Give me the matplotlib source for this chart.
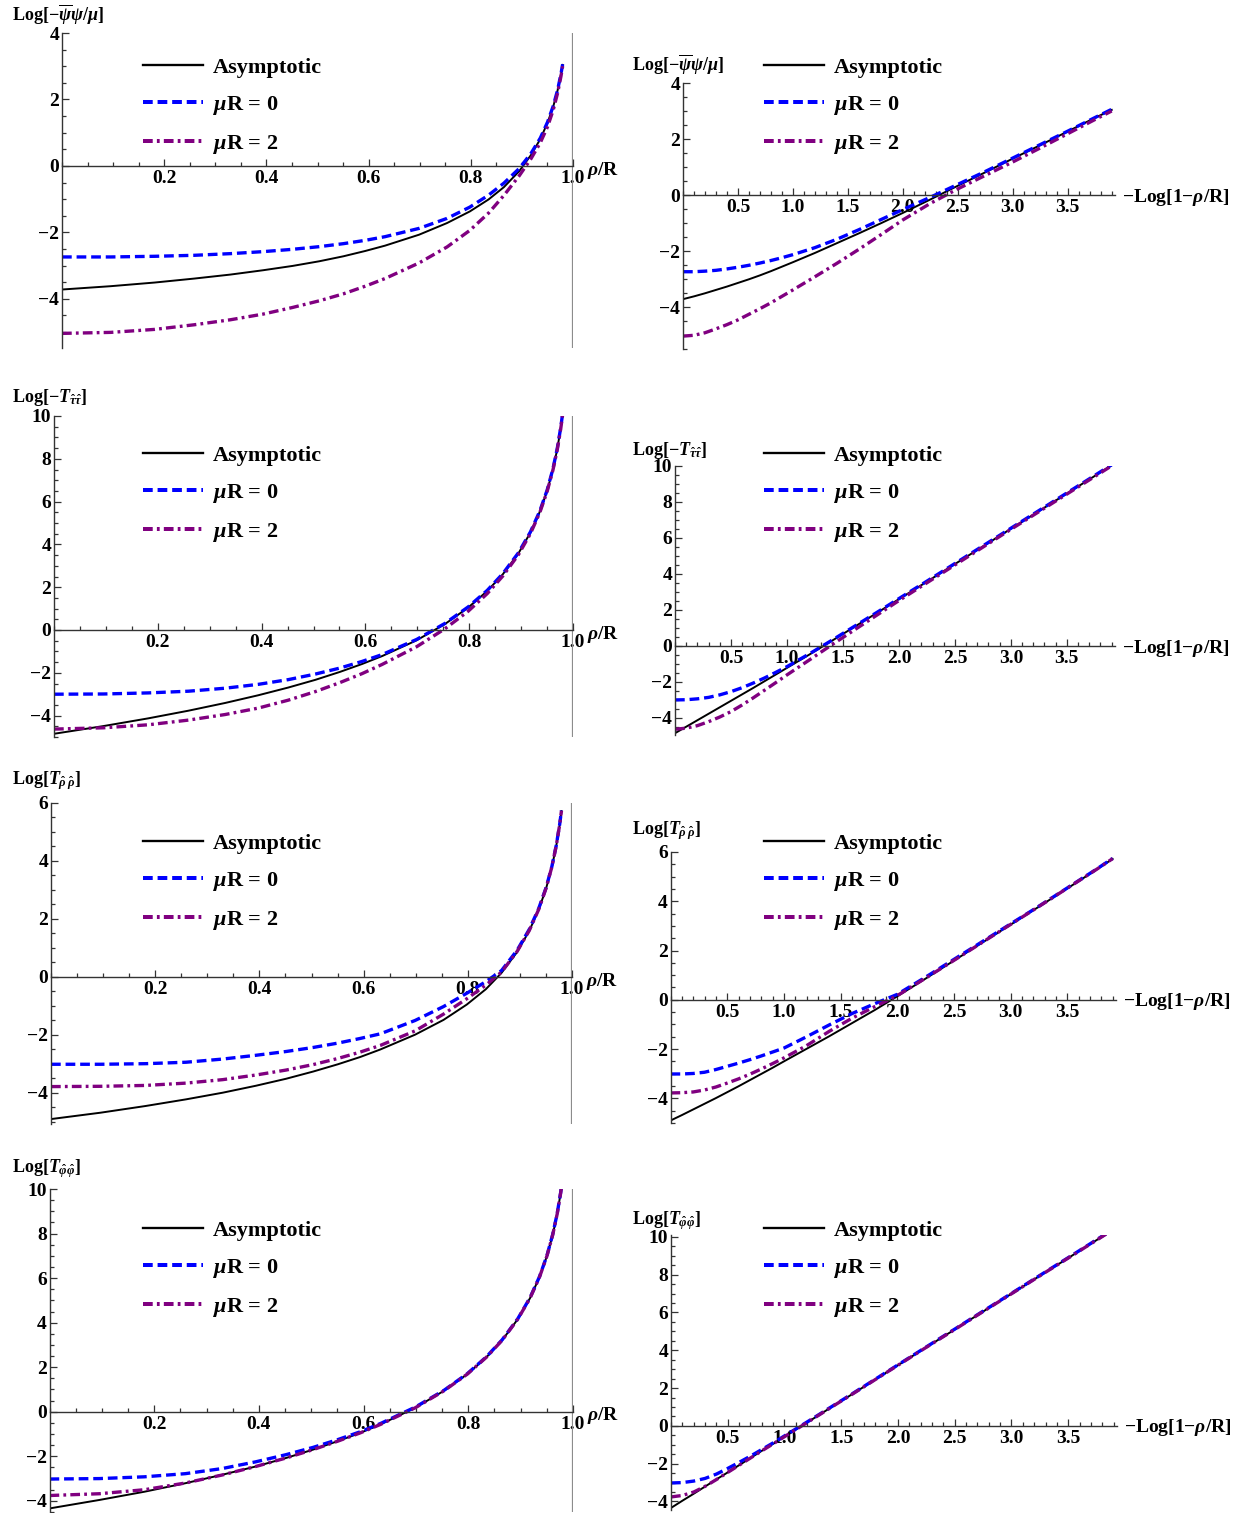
import numpy as np
import matplotlib
matplotlib.use('Agg')
from matplotlib import pyplot as plt
from matplotlib.ticker import MultipleLocator, FormatStrFormatter
import matplotlib.transforms as mtransforms

plt.rcParams['font.family'] = ['Liberation Serif', 'DejaVu Serif']
plt.rcParams['font.weight'] = 'bold'
plt.rcParams['mathtext.fontset'] = 'custom'
plt.rcParams['mathtext.rm'] = 'Liberation Serif:bold'
plt.rcParams['mathtext.it'] = 'Liberation Serif:italic:bold'
plt.rcParams['mathtext.bf'] = 'Liberation Serif:bold'
plt.rcParams['lines.scale_dashes'] = False

W, H = 1244, 1513

# sample points in t = -Log[1 - rho/R]; left panels use rho/R = 1 - exp(-t)
t = np.array([0, 0.1, 0.2, 0.3, 0.4, 0.5, 0.6, 0.7, 0.8, 0.9, 1.0, 1.2, 1.4,
              1.6, 1.8, 2.0, 2.25, 2.5, 2.75, 3.0, 3.25, 3.5, 3.75, 3.9])
rho = 1 - np.exp(-t)

# Log[-psibar psi / mu]
psi_asym = [-3.72, -3.62, -3.51, -3.39, -3.27, -3.14, -3.01, -2.87, -2.72,
            -2.56, -2.40, -2.07, -1.72, -1.37, -1.01, -0.64, -0.16, 0.33,
            0.81, 1.30, 1.78, 2.27, 2.76, 3.04]
psi_mu0 = [-2.74, -2.74, -2.72, -2.69, -2.64, -2.58, -2.51, -2.43, -2.34,
           -2.24, -2.13, -1.88, -1.58, -1.24, -0.88, -0.52, -0.08, 0.38,
           0.84, 1.32, 1.80, 2.28, 2.77, 3.06]
psi_mu2 = [-5.04, -5.01, -4.92, -4.78, -4.63, -4.46, -4.26, -4.06, -3.85,
           -3.62, -3.39, -2.92, -2.44, -1.94, -1.42, -0.89, -0.30, 0.22,
           0.70, 1.18, 1.68, 2.19, 2.70, 3.00]

# Log[-T_tau tau]
ttau_asym = [-4.85, -4.49, -4.13, -3.77, -3.41, -3.05, -2.69, -2.33, -1.96,
             -1.59, -1.22, -0.48, 0.28, 1.05, 1.82, 2.60, 3.57, 4.55, 5.53,
             6.51, 7.49, 8.47, 9.45, 10.04]
ttau_mu0 = [-3.00, -2.99, -2.94, -2.86, -2.72, -2.54, -2.32, -2.06, -1.78,
            -1.47, -1.15, -0.44, 0.31, 1.08, 1.85, 2.63, 3.60, 4.58, 5.56,
            6.54, 7.52, 8.50, 9.48, 10.07]
ttau_mu2 = [-4.63, -4.57, -4.43, -4.21, -3.95, -3.65, -3.28, -2.88, -2.46,
            -2.04, -1.61, -0.78, 0.06, 0.88, 1.70, 2.52, 3.51, 4.50, 5.49,
            6.48, 7.46, 8.44, 9.42, 10.01]

# Log[T_rho rho]
trho_asym = [-4.90, -4.68, -4.45, -4.22, -3.99, -3.75, -3.51, -3.26, -3.01,
             -2.76, -2.50, -1.99, -1.48, -0.95, -0.42, 0.14, 0.86, 1.59,
             2.32, 3.05, 3.78, 4.52, 5.26, 5.72]
trho_mu0 = [-3.01, -3.01, -2.99, -2.94, -2.83, -2.70, -2.57, -2.43, -2.28,
            -2.12, -1.96, -1.50, -1.02, -0.56, -0.16, 0.22, 0.92, 1.64,
            2.36, 3.08, 3.80, 4.54, 5.28, 5.74]
trho_mu2 = [-3.78, -3.77, -3.74, -3.66, -3.54, -3.38, -3.21, -3.02, -2.81,
            -2.59, -2.36, -1.86, -1.28, -0.75, -0.28, 0.17, 0.88, 1.60,
            2.33, 3.06, 3.79, 4.53, 5.27, 5.73]

# Log[T_phi phi]
tphi_asym = [-4.34, -3.96, -3.59, -3.21, -2.83, -2.46, -2.08, -1.70, -1.32,
             -0.95, -0.57, 0.18, 0.94, 1.69, 2.45, 3.21, 4.16, 5.10, 6.05,
             6.99, 7.94, 8.88, 9.83, 10.40]
tphi_mu0 = [-3.02, -3.00, -2.92, -2.78, -2.55, -2.25, -1.93, -1.60, -1.25,
            -0.90, -0.53, 0.21, 0.96, 1.71, 2.47, 3.23, 4.18, 5.12, 6.07,
            7.01, 7.96, 8.90, 9.85, 10.42]
tphi_mu2 = [-3.76, -3.68, -3.50, -3.20, -2.84, -2.46, -2.08, -1.70, -1.32,
            -0.95, -0.57, 0.18, 0.94, 1.69, 2.45, 3.21, 4.16, 5.10, 6.05,
            6.99, 7.94, 8.88, 9.83, 10.40]

ylabels = [r'Log[$-\overline{\psi}\psi/\mu$]',
           r'Log[$-T_{\hat{\tau}\hat{\tau}}$]',
           r'Log[$T_{\hat{\rho}\,\hat{\rho}}$]',
           r'Log[$T_{\hat{\varphi}\hat{\varphi}}$]']
series = [(psi_asym, psi_mu0, psi_mu2),
          (ttau_asym, ttau_mu0, ttau_mu2),
          (trho_asym, trho_mu0, trho_mu2),
          (tphi_asym, tphi_mu0, tphi_mu2)]
yticks = [[-4, -2, 0, 2, 4], [-4, -2, 0, 2, 4, 6, 8, 10],
          [-4, -2, 0, 2, 4, 6], [-4, -2, 0, 2, 4, 6, 8, 10]]
ylim_left = [(-5.48, 4), (-5.0, 10), (-5.07, 6), (-4.5, 10)]
ylim_right = [(-5.5, 4), (-4.95, 10), (-5.0, 6), (-4.45, 10.1)]

# axes boxes in pixels: x0, y0(top), x1, y1(bottom)
box_left = [(62, 33, 573, 348), (54, 416, 573, 737),
            (51, 803, 572, 1124), (49.5, 1189, 573, 1512)]
box_right = [(683, 83, 1115, 349), (675, 466, 1115, 735),
             (670.5, 852, 1116, 1123), (671, 1235, 1117, 1510)]
ylab_left = [21, 402, 784, 1172]
ylab_right = [71, 455, 834, 1224]
legend_top = [57, 445, 833, 1220]


def px_rect(b):
    x0, y0, x1, y1 = b
    return [x0/W, 1 - y1/H, (x1 - x0)/W, (y1 - y0)/H]


def setup_axes(ax, xlim, ylim, xticks, xminor, yt):
    ax.set_xlim(*xlim)
    ax.set_ylim(*ylim)
    ax.spines['left'].set_position(('data', 0))
    ax.spines['bottom'].set_position(('data', 0))
    ax.spines['top'].set_visible(False)
    ax.spines['right'].set_visible(False)
    for s in ['left', 'bottom']:
        ax.spines[s].set_color('#333333')
        ax.spines[s].set_linewidth(1.0)
    ax.set_xticks(xticks)
    ax.xaxis.set_major_formatter(FormatStrFormatter('%.1f'))
    ax.xaxis.set_minor_locator(MultipleLocator(xminor))
    ax.set_yticks(yt)
    ax.yaxis.set_minor_locator(MultipleLocator(0.5))
    ax.tick_params(which='both', direction='in', color='#333333', width=0.9)
    ax.tick_params(which='major', length=5)
    ax.tick_params(which='minor', length=2.8)
    ax.tick_params(axis='x', labelsize=14, pad=3)
    ax.tick_params(axis='y', labelsize=14, pad=2)
    ax.patch.set_visible(False)


def draw_lines(ax, x, ys):
    a, m0, m2 = ys
    l1, = ax.plot(x, a, color='black', lw=1.4, label='Asymptotic')
    l2, = ax.plot(x, m0, color='blue', lw=2.4, dashes=(7, 3.5),
                  label=r'$\mu$R = 0')
    l3, = ax.plot(x, m2, color='purple', lw=2.4, dashes=(7, 3, 2, 3),
                  label=r'$\mu$R = 2')
    return [l1, l2, l3]


def add_legend(ax, handles, x_px, top_px):
    leg = ax.legend(handles=handles, loc='upper left',
                    bbox_to_anchor=(x_px/W, 1 - top_px/H),
                    bbox_transform=fig.transFigure, frameon=False,
                    fontsize=16, handlelength=2.7, handletextpad=0.45,
                    labelspacing=0.72, borderpad=0, borderaxespad=0)
    for ln in leg.get_lines():
        ln.set_linewidth(ln.get_linewidth() * 1.2)


fig = plt.figure(figsize=(W/100, H/100), dpi=100)

for i in range(4):
    # left: against rho/R
    ax = fig.add_axes(px_rect(box_left[i]))
    handles = draw_lines(ax, rho, series[i])
    ax.axvline(1.0, color='0.55', lw=1.6)
    setup_axes(ax, (0, 1.0), ylim_left[i], [0.2, 0.4, 0.6, 0.8, 1.0], 0.05,
               yticks[i])
    tr = mtransforms.blended_transform_factory(ax.transAxes, ax.transData)
    ax.annotate(r'$\rho$/R', xy=(1.0, 0), xycoords=tr, xytext=(10, -3),
                textcoords='offset points', fontsize=14, ha='left',
                va='center')
    add_legend(ax, handles, 143, legend_top[i])
    fig.text(12/W, 1 - ylab_left[i]/H, ylabels[i], fontsize=13,
             ha='left', va='baseline')

    # right: against -Log[1 - rho/R]
    ax = fig.add_axes(px_rect(box_right[i]))
    handles = draw_lines(ax, t, series[i])
    setup_axes(ax, (0, 3.93), ylim_right[i],
               [0.5, 1.0, 1.5, 2.0, 2.5, 3.0, 3.5], 0.1, yticks[i])
    tr = mtransforms.blended_transform_factory(ax.transAxes, ax.transData)
    ax.annotate(r'$-$Log[1$-\rho$/R]', xy=(1.0, 0), xycoords=tr,
                xytext=(5, -1.5), textcoords='offset points', fontsize=14,
                ha='left', va='center')
    add_legend(ax, handles, 764, legend_top[i])
    fig.text(632/W, 1 - ylab_right[i]/H, ylabels[i], fontsize=13,
             ha='left', va='baseline')

fig.savefig('out.png', dpi=100)
